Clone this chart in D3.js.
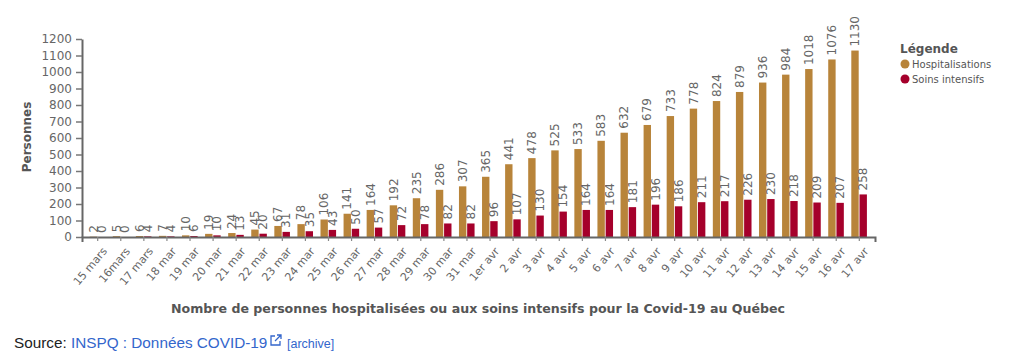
<!DOCTYPE html>
<html><head><meta charset="utf-8">
<script src="https://cdn.jsdelivr.net/npm/d3@7"></script>
<style>
html,body{margin:0;padding:0;background:#fff;}
svg{display:block;}
</style></head>
<body>
<svg id="chart" width="1027" height="360"></svg>
<script>
const dates = ["15 mars","16mars","17 mars","18 mar","19 mar","20 mar","21 mar","22 mar","23 mar","24 mar","25 mar","26 mar","27 mar","28 mar","29 mar","30 mar","31 mar","1er avr","2 avr","3 avr","4 avr","5 avr","6 avr","7 avr","8 avr","9 avr","10 avr","11 avr","12 avr","13 avr","14 avr","15 avr","16 avr","17 avr"];
const hospitalisations = [2,5,6,7,10,19,24,45,67,78,106,141,164,192,235,286,307,365,441,478,525,533,583,632,679,733,778,824,879,936,984,1018,1076,1130];
const soinsIntensifs = [0,0,4,4,6,10,13,20,31,35,43,50,57,72,78,82,82,96,107,130,154,164,164,181,196,186,211,217,226,230,218,209,207,258];
const yTicks = [0,100,200,300,400,500,600,700,800,900,1000,1100,1200];
const seriesNames = ["Hospitalisations","Soins intensifs"];
const seriesColors = ["#b8843a","#a5002b"];

const svg = d3.select("#chart");
const x = d3.scaleBand().domain(dates).range([82, 875]).paddingInner(0).paddingOuter(0.18);
const y = d3.scaleLinear().domain([0, 1200]).range([237, 39]);
const xs = d3.scaleBand().domain(seriesNames).range([-8, 7.6]).paddingInner(0.1);
const color = d3.scaleOrdinal().domain(seriesNames).range(seriesColors);

const rows = dates.map((d, i) => ({date: d, vals: [
  {s: seriesNames[0], v: hospitalisations[i]},
  {s: seriesNames[1], v: soinsIntensifs[i]}]}));

// bars
const g = svg.append("g");
const grp = g.selectAll("g.grp").data(rows).join("g")
  .attr("transform", d => `translate(${x(d.date) + x.bandwidth()/2},0)`);
grp.selectAll("rect").data(d => d.vals).join("rect")
  .attr("x", d => xs(d.s)).attr("width", xs.bandwidth())
  .attr("y", d => y(d.v)).attr("height", d => y(0) - y(d.v))
  .attr("fill", d => color(d.s));
grp.selectAll("text").data(d => d.vals).join("text")
  .attr("transform", d => `translate(${xs(d.s) + xs.bandwidth()/2},${y(d.v) - 4}) rotate(-90)`)
  .attr("dy", "0.35em")
  .attr("font-family", "DejaVu Sans").attr("font-size", 12).attr("fill", "#666")
  .text(d => d.v);

// y axis
const yAxis = svg.append("g").attr("transform", "translate(82,0)")
  .call(d3.axisLeft(y).tickValues(yTicks).tickFormat(d3.format("d")).tickSize(6).tickSizeOuter(0).tickPadding(4));
yAxis.select(".domain").attr("stroke", "#666").attr("stroke-width", 2);
yAxis.selectAll(".tick line").attr("stroke", "#777").attr("stroke-width", 1.5);
yAxis.selectAll(".tick text").attr("font-family", "DejaVu Sans").attr("font-size", 12).attr("fill", "#666");

// x axis
const xAxis = svg.append("g").attr("transform", "translate(0,237)")
  .call(d3.axisBottom(x).tickSize(4).tickSizeOuter(5).tickPadding(4));
xAxis.select(".domain").attr("stroke", "#666").attr("stroke-width", 2);
xAxis.selectAll(".tick line").attr("stroke", "#888").attr("stroke-width", 1.2);
xAxis.selectAll(".tick text")
  .attr("font-family", "DejaVu Sans").attr("font-size", 11).attr("fill", "#666")
  .attr("text-anchor", "end").attr("y", 0).attr("dy", "0.35em")
  .attr("transform", "translate(7,12) rotate(-50)");

// axis titles
svg.append("text").attr("x", 478).attr("y", 313).attr("text-anchor", "middle")
  .attr("font-family", "DejaVu Sans").attr("font-weight", "bold").attr("font-size", 12.6).attr("fill", "#555")
  .text("Nombre de personnes hospitalisées ou aux soins intensifs pour la Covid-19 au Québec");
svg.append("text").attr("transform", "translate(31,137) rotate(-90)").attr("text-anchor", "middle")
  .attr("font-family", "DejaVu Sans").attr("font-weight", "bold").attr("font-size", 12).attr("fill", "#555")
  .text("Personnes");

// legend
svg.append("text").attr("x", 900).attr("y", 53)
  .attr("font-family", "DejaVu Sans").attr("font-weight", "bold").attr("font-size", 12).attr("fill", "#555")
  .text("Légende");
const lg = svg.selectAll("g.leg").data(seriesNames).join("g")
  .attr("transform", (d, i) => `translate(905,${64 + i * 15})`);
lg.append("circle").attr("r", 4.5).attr("fill", d => color(d));
lg.append("text").attr("x", 7).attr("dy", "0.35em")
  .attr("font-family", "DejaVu Sans").attr("font-size", 10).attr("fill", "#555").text(d => d);

// source line
const src = svg.append("text").attr("x", 14).attr("y", 348)
  .attr("font-family", "Liberation Sans, Arial, sans-serif").attr("font-size", 15.3).attr("fill", "#202122");
src.append("tspan").text("Source: ");
src.append("tspan").attr("fill", "#3366cc").text("INSPQ : Données COVID-19");
const ic = svg.append("g").attr("transform", "translate(270,334)").attr("fill", "none").attr("stroke", "#3366cc").attr("stroke-width", 1.3);
ic.append("path").attr("d", "M5,2 H1 V11 H10 V7");
ic.append("path").attr("d", "M5,7 L11,1 M7,1 H11 V5");
svg.append("text").attr("x", 287).attr("y", 348)
  .attr("font-family", "Liberation Sans, Arial, sans-serif").attr("font-size", 12.5).attr("fill", "#3366cc")
  .text("[archive]");
</script>
</body></html>
